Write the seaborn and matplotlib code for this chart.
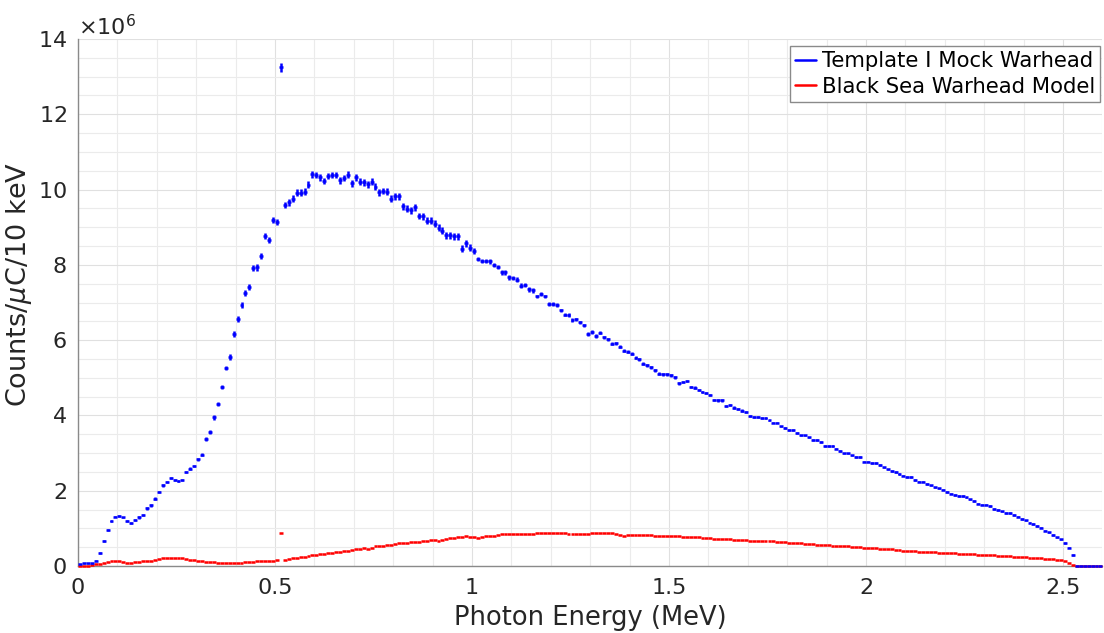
import numpy as np
import matplotlib
matplotlib.use("Agg")
import matplotlib.pyplot as plt
import seaborn as sns
from matplotlib.ticker import MultipleLocator, ScalarFormatter, FixedLocator, FixedFormatter
from matplotlib.lines import Line2D

# ---------------- data (counts per uC per 10 keV, in units of 1e6) ----------------
bin_width = 0.01                      # MeV
energy = 0.005 + bin_width * np.arange(260)   # bin centres, MeV

template_counts = [
    0.05, 0.07, 0.07, 0.07, 0.14, 0.35, 0.67, 0.96, 1.20, 1.31,
    1.33, 1.29, 1.20, 1.14, 1.23, 1.29, 1.36, 1.53, 1.61, 1.79,
    1.97, 2.14, 2.23, 2.33, 2.28, 2.26, 2.28, 2.49, 2.59, 2.66,
    2.83, 2.96, 3.37, 3.56, 3.95, 4.30, 4.75, 5.26, 5.54, 6.17,
    6.55, 6.93, 7.25, 7.42, 7.91, 7.93, 8.24, 8.77, 8.66, 9.19,
    9.14, 13.25, 9.59, 9.66, 9.76, 9.92, 9.92, 9.94, 10.13, 10.41,
    10.39, 10.33, 10.23, 10.36, 10.39, 10.39, 10.25, 10.31, 10.40, 10.17,
    10.33, 10.21, 10.19, 10.14, 10.21, 10.08, 9.93, 9.96, 9.94, 9.76,
    9.82, 9.82, 9.56, 9.49, 9.45, 9.53, 9.30, 9.29, 9.17, 9.17,
    9.09, 8.99, 8.91, 8.78, 8.78, 8.76, 8.76, 8.43, 8.57, 8.46,
    8.37, 8.16, 8.10, 8.10, 8.09, 7.99, 7.94, 7.80, 7.80, 7.67,
    7.65, 7.61, 7.45, 7.47, 7.35, 7.32, 7.16, 7.23, 7.16, 6.97,
    6.97, 6.93, 6.79, 6.68, 6.66, 6.54, 6.55, 6.47, 6.39, 6.16,
    6.22, 6.11, 6.19, 6.08, 6.03, 5.90, 5.92, 5.82, 5.72, 5.69,
    5.64, 5.53, 5.49, 5.37, 5.33, 5.28, 5.20, 5.11, 5.10, 5.10,
    5.07, 5.01, 4.85, 4.89, 4.92, 4.76, 4.74, 4.68, 4.63, 4.60,
    4.54, 4.41, 4.40, 4.40, 4.25, 4.27, 4.21, 4.17, 4.13, 4.09,
    3.98, 3.96, 3.96, 3.93, 3.93, 3.87, 3.81, 3.81, 3.71, 3.66,
    3.61, 3.61, 3.53, 3.47, 3.47, 3.42, 3.35, 3.35, 3.29, 3.19,
    3.19, 3.19, 3.12, 3.06, 2.99, 2.99, 2.94, 2.89, 2.89, 2.77,
    2.77, 2.73, 2.73, 2.68, 2.62, 2.57, 2.52, 2.50, 2.44, 2.40,
    2.37, 2.37, 2.29, 2.24, 2.24, 2.18, 2.14, 2.09, 2.06, 2.03,
    1.96, 1.92, 1.89, 1.86, 1.86, 1.82, 1.77, 1.73, 1.66, 1.63,
    1.63, 1.59, 1.52, 1.49, 1.45, 1.41, 1.41, 1.35, 1.31, 1.25,
    1.21, 1.15, 1.12, 1.06, 1.02, 0.94, 0.89, 0.82, 0.76, 0.71,
    0.61, 0.49, 0.29, 0.00, 0.00, 0.00, 0.00, 0.00, 0.00, 0.00,
]

template_err = [
    0.01, 0.01, 0.01, 0.01, 0.02, 0.02, 0.02, 0.02, 0.02, 0.02,
    0.02, 0.02, 0.02, 0.03, 0.03, 0.03, 0.03, 0.03, 0.03, 0.03,
    0.03, 0.03, 0.03, 0.03, 0.03, 0.03, 0.03, 0.03, 0.03, 0.03,
    0.05, 0.05, 0.05, 0.05, 0.06, 0.06, 0.06, 0.06, 0.08, 0.08,
    0.08, 0.08, 0.08, 0.08, 0.08, 0.08, 0.08, 0.08, 0.08, 0.08,
    0.08, 0.12, 0.09, 0.09, 0.09, 0.09, 0.09, 0.09, 0.09, 0.09,
    0.09, 0.09, 0.09, 0.09, 0.09, 0.09, 0.09, 0.09, 0.09, 0.09,
    0.09, 0.09, 0.09, 0.09, 0.09, 0.09, 0.09, 0.09, 0.09, 0.09,
    0.09, 0.09, 0.09, 0.09, 0.09, 0.09, 0.09, 0.09, 0.09, 0.09,
    0.09, 0.09, 0.09, 0.09, 0.09, 0.09, 0.09, 0.09, 0.09, 0.09,
    0.09, 0.06, 0.06, 0.06, 0.06, 0.06, 0.06, 0.06, 0.06, 0.06,
    0.06, 0.06, 0.06, 0.06, 0.06, 0.06, 0.05, 0.05, 0.05, 0.05,
    0.05, 0.05, 0.05, 0.05, 0.05, 0.05, 0.05, 0.05, 0.05, 0.05,
    0.05, 0.04, 0.04, 0.04, 0.04, 0.04, 0.04, 0.04, 0.04, 0.04,
    0.04, 0.04, 0.04, 0.04, 0.04, 0.04, 0.04, 0.04, 0.04, 0.04,
    0.04, 0.03, 0.03, 0.03, 0.03, 0.03, 0.03, 0.03, 0.03, 0.03,
    0.03, 0.03, 0.03, 0.03, 0.03, 0.03, 0.03, 0.03, 0.03, 0.03,
    0.03, 0.02, 0.02, 0.02, 0.02, 0.02, 0.02, 0.02, 0.02, 0.02,
    0.02, 0.02, 0.02, 0.02, 0.02, 0.02, 0.02, 0.02, 0.02, 0.02,
    0.02, 0.02, 0.02, 0.02, 0.02, 0.02, 0.02, 0.02, 0.02, 0.02,
    0.02, 0.02, 0.02, 0.02, 0.02, 0.02, 0.02, 0.02, 0.02, 0.02,
    0.02, 0.02, 0.02, 0.02, 0.02, 0.02, 0.02, 0.02, 0.02, 0.02,
    0.02, 0.02, 0.02, 0.02, 0.02, 0.02, 0.02, 0.02, 0.02, 0.02,
    0.02, 0.02, 0.02, 0.02, 0.02, 0.02, 0.02, 0.02, 0.02, 0.02,
    0.02, 0.02, 0.02, 0.02, 0.02, 0.02, 0.02, 0.02, 0.02, 0.02,
    0.02, 0.02, 0.02, 0.00, 0.00, 0.00, 0.00, 0.00, 0.00, 0.00,
]

blacksea_counts = [
    0.00, 0.01, 0.01, 0.02, 0.04, 0.06, 0.09, 0.11, 0.12, 0.13,
    0.12, 0.10, 0.09, 0.09, 0.10, 0.11, 0.12, 0.12, 0.13, 0.15,
    0.18, 0.20, 0.21, 0.22, 0.22, 0.22, 0.20, 0.18, 0.17, 0.15,
    0.13, 0.12, 0.11, 0.10, 0.10, 0.09, 0.09, 0.08, 0.08, 0.08,
    0.09, 0.09, 0.10, 0.10, 0.11, 0.12, 0.13, 0.13, 0.13, 0.14,
    0.15, 0.87, 0.17, 0.18, 0.20, 0.22, 0.23, 0.25, 0.26, 0.28,
    0.29, 0.31, 0.32, 0.34, 0.35, 0.36, 0.38, 0.39, 0.41, 0.42,
    0.44, 0.45, 0.47, 0.46, 0.47, 0.52, 0.53, 0.54, 0.55, 0.56,
    0.58, 0.60, 0.60, 0.61, 0.63, 0.64, 0.64, 0.66, 0.67, 0.69,
    0.68, 0.67, 0.70, 0.72, 0.74, 0.75, 0.76, 0.78, 0.79, 0.78,
    0.76, 0.75, 0.77, 0.79, 0.80, 0.81, 0.83, 0.84, 0.85, 0.85,
    0.86, 0.86, 0.86, 0.85, 0.85, 0.85, 0.87, 0.88, 0.88, 0.88,
    0.88, 0.88, 0.87, 0.87, 0.86, 0.86, 0.86, 0.85, 0.86, 0.86,
    0.87, 0.87, 0.87, 0.88, 0.88, 0.87, 0.85, 0.82, 0.80, 0.82,
    0.83, 0.83, 0.83, 0.82, 0.82, 0.82, 0.81, 0.81, 0.80, 0.80,
    0.81, 0.80, 0.79, 0.78, 0.78, 0.77, 0.77, 0.76, 0.75, 0.75,
    0.74, 0.73, 0.73, 0.72, 0.72, 0.71, 0.70, 0.69, 0.69, 0.68,
    0.67, 0.67, 0.67, 0.66, 0.66, 0.66, 0.66, 0.65, 0.64, 0.63,
    0.62, 0.61, 0.61, 0.60, 0.59, 0.58, 0.58, 0.57, 0.56, 0.56,
    0.55, 0.54, 0.54, 0.53, 0.52, 0.52, 0.51, 0.50, 0.50, 0.49,
    0.49, 0.48, 0.47, 0.46, 0.45, 0.44, 0.44, 0.43, 0.42, 0.41,
    0.41, 0.40, 0.39, 0.38, 0.38, 0.37, 0.36, 0.36, 0.35, 0.35,
    0.34, 0.34, 0.34, 0.33, 0.32, 0.32, 0.31, 0.31, 0.30, 0.29,
    0.29, 0.28, 0.28, 0.27, 0.27, 0.27, 0.26, 0.25, 0.25, 0.24,
    0.23, 0.22, 0.22, 0.21, 0.20, 0.19, 0.19, 0.18, 0.17, 0.15,
    0.13, 0.08, 0.03, 0.00, 0.00, 0.00, 0.00, 0.00, 0.00, 0.00,
]

series_labels = ["Template I Mock Warhead", "Black Sea Warhead Model"]
series_colors = ["#0000ff", "#ff0000"]
x_ticks = [0, 0.5, 1, 1.5, 2, 2.5]
x_tick_labels = ["0", "0.5", "1", "1.5", "2", "2.5"]
y_ticks_millions = [0, 2, 4, 6, 8, 10, 12, 14]
SCALE = 1e6

# ---------------- styling ----------------
sns.set_style("whitegrid")
plt.rcParams["font.family"] = ["DejaVu Sans"]
plt.rcParams["mathtext.fontset"] = "dejavusans"

TEXT = "#262626"
AXC = "#8a8a8a"

fig = plt.figure(figsize=(11.04, 6.33), dpi=100)
W, H = 1104, 633
ax = fig.add_axes([78 / W, 1 - 566 / H, 1024.4 / W, 527 / H])
ax.set_facecolor("white")

E = np.asarray(energy)
red = np.asarray(blacksea_counts) * SCALE
blue = np.asarray(template_counts) * SCALE
blue_err = np.asarray(template_err) * SCALE

ax.errorbar(E, red, xerr=bin_width / 2, fmt="none", ecolor=series_colors[1],
            elinewidth=1.8, capsize=0, clip_on=False, zorder=3)
ax.errorbar(E, blue, xerr=bin_width / 2, yerr=blue_err, fmt="none",
            ecolor=series_colors[0], elinewidth=1.8, capsize=0, clip_on=False, zorder=4)

ax.set_xlim(0, 2.6)
ax.set_ylim(0, 14 * SCALE)

ax.xaxis.set_major_locator(FixedLocator(x_ticks))
ax.xaxis.set_major_formatter(FixedFormatter(x_tick_labels))
ax.xaxis.set_minor_locator(MultipleLocator(0.1))
ax.yaxis.set_major_locator(FixedLocator([v * SCALE for v in y_ticks_millions]))
fmt = ScalarFormatter(useMathText=True)
fmt.set_powerlimits((6, 6))
ax.yaxis.set_major_formatter(fmt)
ax.yaxis.set_minor_locator(MultipleLocator(0.5 * SCALE))

ax.grid(which="major", color="#e0e0e0", linewidth=0.8)
ax.grid(which="minor", color="#ebebeb", linewidth=0.8)
ax.set_axisbelow(True)

for s in ["top", "right"]:
    ax.spines[s].set_visible(False)
for s in ["left", "bottom"]:
    ax.spines[s].set_visible(True)
    ax.spines[s].set_color(AXC)
    ax.spines[s].set_linewidth(1.0)

ax.tick_params(which="major", direction="in", length=7, width=1.0, color=AXC,
               labelsize=16, labelcolor=TEXT)
ax.tick_params(axis="x", which="major", pad=9)
ax.tick_params(axis="y", which="major", pad=8)
ax.tick_params(which="minor", length=0)
ax.yaxis.get_offset_text().set_fontsize(16)
ax.yaxis.get_offset_text().set_color(TEXT)

ax.set_xlabel("Photon Energy (MeV)", fontsize=18.5, color=TEXT, labelpad=5)
ax.set_ylabel("Counts/$\\mu$C/10 keV", fontsize=19.5, color=TEXT)
ax.yaxis.set_label_coords(-0.043, 0.535)

handles = [Line2D([], [], color=c, linewidth=1.8) for c in series_colors]
leg = ax.legend(handles, series_labels, loc="upper right",
                bbox_to_anchor=(0.9977, 0.9867), borderaxespad=0,
                fontsize=15.2, frameon=True, fancybox=False, framealpha=1,
                edgecolor=AXC, handlelength=1.0, handletextpad=0.25,
                borderpad=0.25, labelspacing=0.25)
leg.get_frame().set_linewidth(1.0)
for t in leg.get_texts():
    t.set_color("black")

fig.savefig("out.png", dpi=100, facecolor="white")
